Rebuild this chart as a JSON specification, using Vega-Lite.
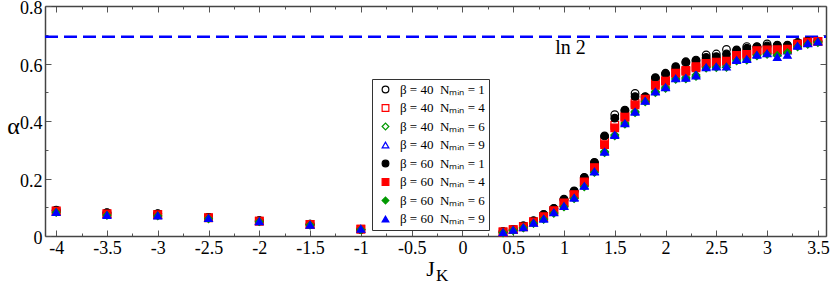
{
  "$schema": "https://vega.github.io/schema/vega-lite/v6.json",
  "width": 781,
  "height": 230,
  "autosize": {"type": "none"},
  "padding": {"left": 45, "top": 6, "right": 4, "bottom": 48},
  "background": "white",
  "config": {
    "font": "Liberation Serif",
    "view": {"stroke": null},
    "axis": {
      "labelFont": "Liberation Serif",
      "labelFontSize": 18,
      "labelColor": "black",
      "titleFont": "Liberation Serif",
      "titleFontWeight": "normal",
      "titleColor": "black",
      "domainColor": "#444444",
      "domainWidth": 1.5,
      "tickColor": "#555555",
      "tickWidth": 1,
      "grid": false,
      "labelFlush": false,
      "labelOverlap": false
    },
    "legend": {"labelFont": "Liberation Serif"}
  },
  "datasets": {
    "alpha": [
      {"x": -4, "b40n1": 0.089, "b40n4": 0.087, "b40n6": 0.084, "b40n9": 0.085, "b60n1": 0.090, "b60n4": 0.086, "b60n6": 0.082, "b60n9": 0.083},
      {"x": -3.5, "b40n1": 0.080, "b40n4": 0.078, "b40n6": 0.074, "b40n9": 0.075, "b60n1": 0.081, "b60n4": 0.077, "b60n6": 0.072, "b60n9": 0.073},
      {"x": -3, "b40n1": 0.077, "b40n4": 0.075, "b40n6": 0.072, "b40n9": 0.073, "b60n1": 0.078, "b60n4": 0.074, "b60n6": 0.070, "b60n9": 0.071},
      {"x": -2.5, "b40n1": 0.065, "b40n4": 0.064, "b40n6": 0.062, "b40n9": 0.063, "b60n1": 0.065, "b60n4": 0.063, "b60n6": 0.060, "b60n9": 0.062},
      {"x": -2, "b40n1": 0.053, "b40n4": 0.052, "b40n6": 0.051, "b40n9": 0.052, "b60n1": 0.053, "b60n4": 0.052, "b60n6": 0.050, "b60n9": 0.051},
      {"x": -1.5, "b40n1": 0.041, "b40n4": 0.040, "b40n6": 0.039, "b40n9": 0.040, "b60n1": 0.041, "b60n4": 0.040, "b60n6": 0.038, "b60n9": 0.039},
      {"x": -1, "b40n1": 0.023, "b40n4": 0.024, "b40n6": 0.023, "b40n9": 0.025, "b60n1": 0.023, "b60n4": 0.024, "b60n6": 0.022, "b60n9": 0.025},
      {"x": 0.4, "b40n1": 0.015, "b40n4": 0.014, "b40n6": 0.012, "b40n9": 0.014, "b60n1": 0.015, "b60n4": 0.014, "b60n6": 0.011, "b60n9": 0.013},
      {"x": 0.5, "b40n1": 0.023, "b40n4": 0.022, "b40n6": 0.020, "b40n9": 0.022, "b60n1": 0.023, "b60n4": 0.022, "b60n6": 0.019, "b60n9": 0.021},
      {"x": 0.6, "b40n1": 0.035, "b40n4": 0.033, "b40n6": 0.029, "b40n9": 0.031, "b60n1": 0.035, "b60n4": 0.032, "b60n6": 0.028, "b60n9": 0.030},
      {"x": 0.7, "b40n1": 0.052, "b40n4": 0.050, "b40n6": 0.045, "b40n9": 0.047, "b60n1": 0.053, "b60n4": 0.049, "b60n6": 0.044, "b60n9": 0.046},
      {"x": 0.8, "b40n1": 0.074, "b40n4": 0.068, "b40n6": 0.060, "b40n9": 0.062, "b60n1": 0.075, "b60n4": 0.067, "b60n6": 0.058, "b60n9": 0.060},
      {"x": 0.9, "b40n1": 0.095, "b40n4": 0.089, "b40n6": 0.081, "b40n9": 0.084, "b60n1": 0.096, "b60n4": 0.088, "b60n6": 0.079, "b60n9": 0.082},
      {"x": 1.0, "b40n1": 0.126, "b40n4": 0.116, "b40n6": 0.104, "b40n9": 0.106, "b60n1": 0.128, "b60n4": 0.115, "b60n6": 0.101, "b60n9": 0.104},
      {"x": 1.1, "b40n1": 0.155, "b40n4": 0.145, "b40n6": 0.133, "b40n9": 0.135, "b60n1": 0.157, "b60n4": 0.144, "b60n6": 0.130, "b60n9": 0.133},
      {"x": 1.2, "b40n1": 0.202, "b40n4": 0.189, "b40n6": 0.174, "b40n9": 0.176, "b60n1": 0.204, "b60n4": 0.188, "b60n6": 0.171, "b60n9": 0.174},
      {"x": 1.3, "b40n1": 0.254, "b40n4": 0.240, "b40n6": 0.224, "b40n9": 0.226, "b60n1": 0.256, "b60n4": 0.238, "b60n6": 0.221, "b60n9": 0.224},
      {"x": 1.4, "b40n1": 0.345, "b40n4": 0.325, "b40n6": 0.294, "b40n9": 0.296, "b60n1": 0.348, "b60n4": 0.318, "b60n6": 0.290, "b60n9": 0.293},
      {"x": 1.5, "b40n1": 0.422, "b40n4": 0.385, "b40n6": 0.352, "b40n9": 0.354, "b60n1": 0.410, "b60n4": 0.376, "b60n6": 0.348, "b60n9": 0.351},
      {"x": 1.6, "b40n1": 0.436, "b40n4": 0.416, "b40n6": 0.393, "b40n9": 0.395, "b60n1": 0.438, "b60n4": 0.413, "b60n6": 0.389, "b60n9": 0.392},
      {"x": 1.7, "b40n1": 0.496, "b40n4": 0.462, "b40n6": 0.433, "b40n9": 0.435, "b60n1": 0.485, "b60n4": 0.456, "b60n6": 0.429, "b60n9": 0.432},
      {"x": 1.8, "b40n1": 0.483, "b40n4": 0.478, "b40n6": 0.470, "b40n9": 0.472, "b60n1": 0.485, "b60n4": 0.476, "b60n6": 0.467, "b60n9": 0.470},
      {"x": 1.9, "b40n1": 0.548, "b40n4": 0.532, "b40n6": 0.503, "b40n9": 0.505, "b60n1": 0.551, "b60n4": 0.524, "b60n6": 0.499, "b60n9": 0.502},
      {"x": 2.0, "b40n1": 0.563, "b40n4": 0.540, "b40n6": 0.518, "b40n9": 0.520, "b60n1": 0.566, "b60n4": 0.539, "b60n6": 0.514, "b60n9": 0.517},
      {"x": 2.1, "b40n1": 0.580, "b40n4": 0.568, "b40n6": 0.549, "b40n9": 0.551, "b60n1": 0.589, "b60n4": 0.566, "b60n6": 0.545, "b60n9": 0.548},
      {"x": 2.2, "b40n1": 0.603, "b40n4": 0.576, "b40n6": 0.552, "b40n9": 0.554, "b60n1": 0.606, "b60n4": 0.573, "b60n6": 0.547, "b60n9": 0.550},
      {"x": 2.3, "b40n1": 0.609, "b40n4": 0.585, "b40n6": 0.560, "b40n9": 0.562, "b60n1": 0.612, "b60n4": 0.589, "b60n6": 0.555, "b60n9": 0.558},
      {"x": 2.4, "b40n1": 0.630, "b40n4": 0.603, "b40n6": 0.588, "b40n9": 0.590, "b60n1": 0.621, "b60n4": 0.600, "b60n6": 0.584, "b60n9": 0.587},
      {"x": 2.5, "b40n1": 0.633, "b40n4": 0.607, "b40n6": 0.590, "b40n9": 0.592, "b60n1": 0.624, "b60n4": 0.605, "b60n6": 0.586, "b60n9": 0.589},
      {"x": 2.6, "b40n1": 0.649, "b40n4": 0.612, "b40n6": 0.595, "b40n9": 0.598, "b60n1": 0.633, "b60n4": 0.608, "b60n6": 0.587, "b60n9": 0.589},
      {"x": 2.7, "b40n1": 0.645, "b40n4": 0.630, "b40n6": 0.613, "b40n9": 0.615, "b60n1": 0.647, "b60n4": 0.628, "b60n6": 0.609, "b60n9": 0.612},
      {"x": 2.8, "b40n1": 0.659, "b40n4": 0.635, "b40n6": 0.616, "b40n9": 0.618, "b60n1": 0.653, "b60n4": 0.632, "b60n6": 0.612, "b60n9": 0.615},
      {"x": 2.9, "b40n1": 0.657, "b40n4": 0.646, "b40n6": 0.631, "b40n9": 0.633, "b60n1": 0.659, "b60n4": 0.645, "b60n6": 0.627, "b60n9": 0.630},
      {"x": 3.0, "b40n1": 0.668, "b40n4": 0.650, "b40n6": 0.636, "b40n9": 0.638, "b60n1": 0.661, "b60n4": 0.647, "b60n6": 0.632, "b60n9": 0.635},
      {"x": 3.1, "b40n1": 0.662, "b40n4": 0.645, "b40n6": 0.635, "b40n9": 0.638, "b60n1": 0.664, "b60n4": 0.648, "b60n6": 0.628, "b60n9": 0.622},
      {"x": 3.2, "b40n1": 0.661, "b40n4": 0.648, "b40n6": 0.642, "b40n9": 0.645, "b60n1": 0.664, "b60n4": 0.650, "b60n6": 0.638, "b60n9": 0.630},
      {"x": 3.3, "b40n1": 0.671, "b40n4": 0.668, "b40n6": 0.662, "b40n9": 0.664, "b60n1": 0.673, "b60n4": 0.667, "b60n6": 0.658, "b60n9": 0.661},
      {"x": 3.4, "b40n1": 0.677, "b40n4": 0.675, "b40n6": 0.671, "b40n9": 0.672, "b60n1": 0.678, "b60n4": 0.674, "b60n6": 0.667, "b60n9": 0.670},
      {"x": 3.5, "b40n1": 0.677, "b40n4": 0.677, "b40n6": 0.676, "b40n9": 0.677, "b60n1": 0.678, "b60n4": 0.677, "b60n6": 0.673, "b60n9": 0.676}
    ],
    "ln2": [{"x1": -4.11, "x2": 3.58, "y": 0.6931}],
    "ln2label": [{"t": "ln 2", "x": 1.064, "y": 0.655}],
    "sub": [{"t": "K", "x": -0.2, "y": -0.157}]
  },
  "layer": [
    {
      "data": {"name": "ln2"},
      "mark": {"type": "rule", "stroke": "#0000ff", "strokeWidth": 2.5, "strokeDash": [13, 6]},
      "encoding": {
        "x": {"field": "x1", "type": "quantitative", "scale": {"domain": [-4.11, 3.58], "nice": false, "zero": false},
          "axis": {"orient": "bottom", "values": [-3.75, -3.25, -2.75, -2.25, -1.75, -1.25, -0.75, -0.25, 0.25, 0.75, 1.25, 1.75, 2.25, 2.75, 3.25], "tickSize": -3, "labels": false, "domain": false, "title": null}},
        "x2": {"field": "x2"},
        "y": {"field": "y", "type": "quantitative", "scale": {"domain": [0, 0.8], "nice": false, "zero": false},
          "axis": {"orient": "left", "values": [0.1, 0.3, 0.5, 0.7], "tickSize": -3, "labels": false, "domain": false, "title": null}}
      }
    },
    {
      "data": {"name": "alpha"},
      "transform": [
        {"fold": ["b40n1", "b40n4", "b40n6", "b40n9", "b60n1", "b60n4", "b60n6", "b60n9"], "as": ["s", "a"]}
      ],
      "mark": {"type": "point", "filled": true, "size": 58, "strokeWidth": 1.2, "opacity": 1},
      "encoding": {
        "x": {"field": "x", "type": "quantitative", "scale": {"domain": [-4.11, 3.58], "nice": false, "zero": false},
          "axis": {"orient": "bottom", "values": [-4, -3.5, -3, -2.5, -2, -1.5, -1, -0.5, 0, 0.5, 1, 1.5, 2, 2.5, 3, 3.5], "tickSize": -6, "labelPadding": 9, "labelExpr": "'' + datum.value", "domain": true,
            "labelFont": "Liberation Serif", "labelFontSize": 18, "titleFont": "Liberation Serif",
            "title": "J", "titleFontSize": 22, "titleX": 385, "titleY": 39, "titleBaseline": "alphabetic", "titleAlign": "center", "titleAnchor": null}},
        "y": {"field": "a", "type": "quantitative", "scale": {"domain": [0, 0.8], "nice": false, "zero": false},
          "axis": {"orient": "left", "values": [0, 0.2, 0.4, 0.6, 0.8], "tickSize": -6, "labelPadding": 9, "labelExpr": "'' + datum.value", "domain": true, "labelOffset": 2.5,
            "labelFont": "Liberation Serif", "labelFontSize": 18, "titleFont": "Liberation Serif",
            "title": "α", "titleAngle": 0, "titleFontSize": 24, "titleX": -32, "titleY": 127, "titleBaseline": "alphabetic", "titleAlign": "center", "titleAnchor": null}},
        "stroke": {"field": "s", "type": "nominal",
          "scale": {"domain": ["b40n1", "b40n4", "b40n6", "b40n9", "b60n1", "b60n4", "b60n6", "b60n9"],
            "range": ["#000000", "#ff0000", "#009900", "#0000ff", "#000000", "#ff0000", "#009900", "#0000ff"]}},
        "fill": {"field": "s", "type": "nominal",
          "scale": {"domain": ["b40n1", "b40n4", "b40n6", "b40n9", "b60n1", "b60n4", "b60n6", "b60n9"],
            "range": ["#ffffff", "#ffffff", "#ffffff", "#ffffff", "#000000", "#ff0000", "#009900", "#0000ff"]}},
        "shape": {"field": "s", "type": "nominal",
          "scale": {"domain": ["b40n1", "b40n4", "b40n6", "b40n9", "b60n1", "b60n4", "b60n6", "b60n9"],
            "range": ["circle", "square", "diamond", "triangle-up", "circle", "square", "diamond", "triangle-up"]},
          "legend": {"orient": "none", "legendX": 327, "legendY": 73, "title": null, "labelFont": "Liberation Serif", "labelFontSize": 13, "labelColor": "black",
            "symbolSize": 45, "symbolStrokeWidth": 1.2, "rowPadding": 4.5, "padding": 4, "strokeColor": "#333333", "fillColor": "white",
            "symbolOffset": 3, "labelOffset": 8, "cornerRadius": 0,
            "labelExpr": "'β = ' + substring(datum.label, 1, 3) + '\u00a0\u00a0Nₘᵢₙ = ' + substring(datum.label, 4)"}}
      }
    },
    {
      "data": {"name": "ln2label"},
      "mark": {"type": "text", "font": "Liberation Serif", "fontSize": 20, "align": "center", "baseline": "middle", "color": "black"},
      "encoding": {
        "x": {"field": "x", "type": "quantitative", "scale": {"domain": [-4.11, 3.58], "nice": false, "zero": false},
          "axis": {"orient": "top", "values": [-4, -3.5, -3, -2.5, -2, -1.5, -1, -0.5, 0, 0.5, 1, 1.5, 2, 2.5, 3, 3.5], "tickSize": -6, "labels": false, "domain": true, "title": null}},
        "y": {"field": "y", "type": "quantitative", "scale": {"domain": [0, 0.8], "nice": false, "zero": false},
          "axis": {"orient": "right", "values": [0, 0.2, 0.4, 0.6, 0.8], "tickSize": -6, "labels": false, "domain": true, "title": null}},
        "text": {"field": "t"}
      }
    },
    {
      "data": {"name": "sub"},
      "mark": {"type": "text", "font": "Liberation Serif", "fontSize": 17, "align": "center", "baseline": "alphabetic", "color": "black"},
      "encoding": {
        "x": {"field": "x", "type": "quantitative", "scale": {"domain": [-4.11, 3.58], "nice": false, "zero": false},
          "axis": {"orient": "top", "values": [-3.75, -3.25, -2.75, -2.25, -1.75, -1.25, -0.75, -0.25, 0.25, 0.75, 1.25, 1.75, 2.25, 2.75, 3.25], "tickSize": -3, "labels": false, "domain": false, "title": null}},
        "y": {"field": "y", "type": "quantitative", "scale": {"domain": [0, 0.8], "nice": false, "zero": false},
          "axis": {"orient": "right", "values": [0.1, 0.3, 0.5, 0.7], "tickSize": -3, "labels": false, "domain": false, "title": null}},
        "text": {"field": "t"}
      }
    }
  ],
  "resolve": {"axis": {"x": "independent", "y": "independent"}}
}
